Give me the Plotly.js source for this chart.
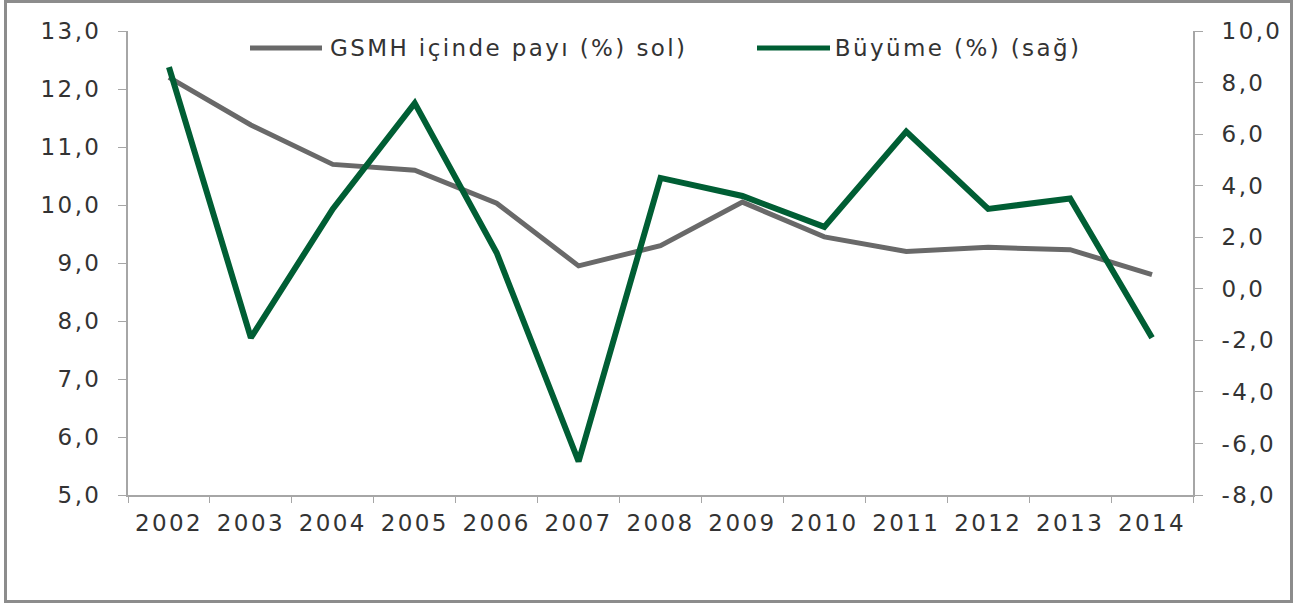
<!DOCTYPE html>
<html>
<head>
<meta charset="utf-8">
<script src="https://cdn.plot.ly/plotly-3.0.1.min.js"></script>
<style>
  html, body { margin: 0; padding: 0; background: #fff; }
  #frame { position: absolute; left: 4px; top: 0px; width: 1283px; height: 597px; border: 3px solid #8c8c8c; }
  #chart { position: absolute; left: 0; top: 0; width: 1296px; height: 603px; }
  #chart svg text { letter-spacing: 2.4px; }
</style>
</head>
<body>
<div id="chart"></div>
<div id="frame"></div>
<script>
const years = ['2002','2003','2004','2005','2006','2007','2008','2009','2010','2011','2012','2013','2014'];
const shareGNP = [12.2, 11.38, 10.7, 10.6, 10.03, 8.95, 9.3, 10.05, 9.45, 9.2, 9.27, 9.23, 8.8];
const growth = [8.6, -1.9, 3.1, 7.2, 1.4, -6.7, 4.3, 3.6, 2.4, 6.1, 3.1, 3.5, -1.9];
const seriesNames = ['GSMH içinde payı (%) sol)', 'Büyüme (%) (sağ)'];
const leftTicks = [5, 6, 7, 8, 9, 10, 11, 12, 13];
const leftTickLabels = ['5,0', '6,0', '7,0', '8,0', '9,0', '10,0', '11,0', '12,0', '13,0'];
const rightTicks = [-8, -6, -4, -2, 0, 2, 4, 6, 8, 10];
const rightTickLabels = ['-8,0', '-6,0', '-4,0', '-2,0', '0,0', '2,0', '4,0', '6,0', '8,0', '10,0'];

const grayCol = 'rgb(105,105,105)';
const greenCol = 'rgb(0,94,52)';
const txtCol = '#333333';
const axCol = '#a6a6a6';
const fontFam = 'DejaVu Sans, Verdana, sans-serif';
const fs = 23;

const traces = [
  { x: years, y: shareGNP, name: seriesNames[0], type: 'scatter', mode: 'lines',
    line: { color: grayCol, width: 5 }, yaxis: 'y', showlegend: false },
  { x: years, y: growth, name: seriesNames[1], type: 'scatter', mode: 'lines',
    line: { color: greenCol, width: 6 }, yaxis: 'y2', showlegend: false }
];

const L = 128, R = 1193, T = 31, B = 495;
const px = v => (v - L) / (R - L);
const py = v => (B - v) / (B - T);

const layout = {
  width: 1296, height: 603,
  margin: { l: L, r: 1296 - R, t: T, b: 603 - B, pad: 0 },
  paper_bgcolor: 'rgba(0,0,0,0)', plot_bgcolor: 'rgba(0,0,0,0)',
  font: { family: fontFam, color: txtCol, size: fs },
  showlegend: false,
  xaxis: {
    type: 'category', range: [-0.5, 12.5], tickson: 'boundaries',
    showline: true, linecolor: axCol, linewidth: 2, ticks: 'outside', ticklen: 6, tickcolor: axCol,
    ticklabelstandoff: 6,
    showgrid: false, zeroline: false, fixedrange: true,
    tickfont: { family: fontFam, size: fs, color: txtCol }
  },
  yaxis: {
    range: [5, 13], tickvals: leftTicks, ticktext: leftTickLabels,
    showline: true, linecolor: axCol, linewidth: 2, ticks: 'outside', ticklen: 8, tickcolor: axCol,
    ticklabelstandoff: 12,
    showgrid: false, zeroline: false, fixedrange: true,
    tickfont: { family: fontFam, size: fs, color: txtCol }
  },
  yaxis2: {
    overlaying: 'y', side: 'right', range: [-8, 10], tickvals: rightTicks, ticktext: rightTickLabels,
    showline: true, linecolor: axCol, linewidth: 2, ticks: 'outside', ticklen: 8, tickcolor: axCol,
    ticklabelstandoff: 14,
    showgrid: false, zeroline: false, fixedrange: true,
    tickfont: { family: fontFam, size: fs, color: txtCol }
  },
  shapes: [
    { type: 'line', xref: 'paper', yref: 'paper', x0: px(250), x1: px(322), y0: py(48), y1: py(48),
      line: { color: grayCol, width: 5 } },
    { type: 'line', xref: 'paper', yref: 'paper', x0: px(757), x1: px(830), y0: py(48), y1: py(48),
      line: { color: greenCol, width: 5 } }
  ],
  annotations: [
    { xref: 'paper', yref: 'paper', x: px(358), y: py(48), xanchor: 'left', yanchor: 'middle',
      text: seriesNames[0], showarrow: false, font: { family: fontFam, size: fs, color: txtCol } },
    { xref: 'paper', yref: 'paper', x: px(852), y: py(48), xanchor: 'left', yanchor: 'middle',
      text: seriesNames[1], showarrow: false, font: { family: fontFam, size: fs, color: txtCol } }
  ]
};

Plotly.newPlot('chart', traces, layout, { displayModeBar: false, staticPlot: true });
</script>
</body>
</html>
